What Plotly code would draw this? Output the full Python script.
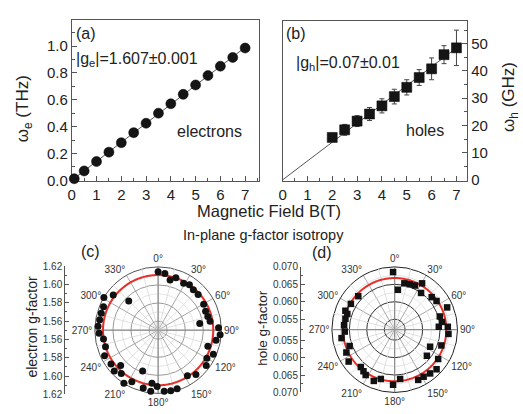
import numpy as np
import plotly.graph_objects as go

W, H = 523, 414
FONT = "Liberation Sans"

# ---- (a) electron precession frequency vs field ----
e_field = [0.1, 0.5, 1.0, 1.5, 2.0, 2.5, 3.0, 3.5, 4.0, 4.5, 5.0, 5.5, 6.0, 6.5, 7.0]
e_omega = [0.012, 0.07, 0.14, 0.21, 0.28, 0.355, 0.425, 0.50, 0.57, 0.64, 0.71, 0.78, 0.85, 0.915, 0.985]
e_fit_field = [0.0, 7.0]
e_fit_omega = [0.0, 0.99]

# ---- (b) hole precession frequency vs field ----
h_field = [2.0, 2.5, 3.0, 3.5, 4.0, 4.5, 5.0, 5.5, 6.0, 6.5, 7.0]
h_omega = [15.6, 18.4, 21.6, 24.2, 27.2, 30.6, 34.0, 37.6, 40.8, 46.0, 48.5]
h_err = [1.5, 2.0, 2.0, 2.4, 2.6, 2.7, 2.8, 2.9, 4.0, 3.3, 6.5]
h_fit_field = [0.0, 7.0]
h_fit_omega = [0.0, 48.5]

# ---- (c) in-plane electron g-factor ----
e_angle = [0, 6.8, 13.4, 18.7, 28.5, 34.6, 41, 48.3, 60.3, 68.3, 74.6, 80.3, 81, 87.7,
           94.3, 100, 107.8, 113.5, 120, 126.3, 139.6, 147.3, 162, 168.2, 174.3, 181,
           186.9, 186.6, 194.4, 207, 212.8, 220.3, 200.8, 227, 226.6, 234.4, 244.4,
           252.5, 260.8, 267, 273.8, 280.2, 286.6, 293.2, 301, 308, 314.8]
e_g = [1.6145, 1.6131, 1.6071, 1.6113, 1.6091, 1.6110, 1.6094, 1.6093, 1.6080, 1.6065,
       1.6070, 1.6083, 1.5966, 1.6169, 1.6188, 1.6150, 1.6078, 1.6166, 1.6123, 1.6160,
       1.6145, 1.6100, 1.6181, 1.6184, 1.6180, 1.6123, 1.6182, 1.6091, 1.6162, 1.6139,
       1.6199, 1.6130, 1.5983, 1.6163, 1.6070, 1.6141, 1.6157, 1.6110, 1.6112, 1.6154,
       1.6166, 1.6157, 1.6156, 1.6157, 1.6200, 1.6130, 1.5958]
e_g_fit = 1.611

# ---- (d) in-plane hole g-factor ----
h_angle = [358.4, 4.6, 11.8, 18.4, 24.7, 30.6, 35.7, 48.7, 55.6, 67, 73.7, 80.7, 86.2,
           86.9, 94.5, 108.7, 115.7, 129, 124, 133.4, 141, 148.4, 154.9, 173.7, 181.7,
           195.7, 202.2, 212.6, 222.2, 216.9, 235.3, 244.7, 250, 261, 267.8, 275.1,
           282.5, 288.4, 291, 300.5, 312.6]
h_g = [0.06852, 0.06348, 0.06557, 0.06572, 0.06592, 0.06743, 0.06496, 0.06612, 0.06654,
       0.06834, 0.06547, 0.06575, 0.06467, 0.06725, 0.06746, 0.06612, 0.06327, 0.06388,
       0.06703, 0.06852, 0.06814, 0.06783, 0.06790, 0.06621, 0.06779, 0.06667, 0.06786,
       0.06744, 0.06645, 0.06690, 0.06805, 0.06732, 0.06575, 0.06742, 0.06632, 0.06655,
       0.06646, 0.06631, 0.06714, 0.06657, 0.06618]
h_g_fit = 0.0668

angle_ticks = list(range(0, 360, 30))
angle_text = [f"{a}°" for a in angle_ticks]

e_range = [1.55, 1.62]
h_range = [0.052, 0.070]

e_scale_vals = [-0.07, -0.05, -0.03, -0.01, 0.01, 0.03, 0.05, 0.07]
e_scale_text = ["1.62", "1.60", "1.58", "1.56", "1.56", "1.58", "1.60", "1.62"]
h_scale_vals = [-0.018, -0.013, -0.008, -0.003, 0.003, 0.008, 0.013, 0.018]
h_scale_text = ["0.070", "0.065", "0.060", "0.055", "0.055", "0.060", "0.065", "0.070"]


def px_x(x0, x1):
    return [x0 / W, x1 / W]


def px_y(top, bottom):
    return [1 - bottom / H, 1 - top / H]


fig = go.Figure()

# (a)
fig.add_trace(go.Scatter(x=e_fit_field, y=e_fit_omega, mode="lines",
                         line=dict(color="#555", width=1), xaxis="x", yaxis="y"))
fig.add_trace(go.Scatter(x=e_field, y=e_omega, mode="markers", cliponaxis=False,
                         marker=dict(symbol="circle", size=10, color="#151515",
                                     line=dict(color="#000", width=0.5)),
                         xaxis="x", yaxis="y"))
# (b)
fig.add_trace(go.Scatter(x=h_fit_field, y=h_fit_omega, mode="lines",
                         line=dict(color="#555", width=1), xaxis="x2", yaxis="y2"))
fig.add_trace(go.Scatter(x=h_field, y=h_omega, mode="markers", cliponaxis=False,
                         error_y=dict(type="data", array=h_err, color="#444",
                                      thickness=1, width=2.5),
                         marker=dict(symbol="square", size=10, color="#151515",
                                     line=dict(color="#000", width=0.5)),
                         xaxis="x2", yaxis="y2"))

# scale bars beside the polar plots
fig.add_trace(go.Scatter(x=[0], y=[0], mode="markers", marker=dict(opacity=0),
                         xaxis="x3", yaxis="y3", hoverinfo="skip"))
fig.add_trace(go.Scatter(x=[0], y=[0], mode="markers", marker=dict(opacity=0),
                         xaxis="x4", yaxis="y4", hoverinfo="skip"))

circ = np.linspace(0, 360, 361)


def polar_decor(sub, rng, minor_r, minor_color, axis_color):
    # light minor rings
    for r in minor_r:
        fig.add_trace(go.Scatterpolar(r=[r] * len(circ), theta=circ, mode="lines",
                                      line=dict(color=minor_color, width=0.8),
                                      subplot=sub, hoverinfo="skip"))
    # light spokes every 15 degrees between the major ones
    for a in range(15, 360, 30):
        fig.add_trace(go.Scatterpolar(r=[rng[0], rng[1]], theta=[a, a], mode="lines",
                                      line=dict(color=minor_color, width=0.8),
                                      subplot=sub, hoverinfo="skip"))
    # darker cross through the centre
    for a in (0, 90):
        fig.add_trace(go.Scatterpolar(r=[rng[1], rng[0], rng[1]], theta=[a, a, a + 180],
                                      mode="lines", line=dict(color=axis_color, width=1),
                                      subplot=sub, hoverinfo="skip"))


polar_decor("polar", e_range, [1.57, 1.59, 1.61], "#d8d8d8", "#888")
polar_decor("polar2", h_range, [0.0575, 0.0625, 0.0675], "#d8d8d8", "#888")

fig.add_trace(go.Scatterpolar(r=[e_g_fit] * len(circ), theta=circ, mode="lines",
                              line=dict(color="#e5302a", width=2), subplot="polar"))
fig.add_trace(go.Scatterpolar(r=e_g, theta=e_angle, mode="markers", cliponaxis=False,
                              marker=dict(symbol="circle", size=7, color="#111"),
                              subplot="polar"))
fig.add_trace(go.Scatterpolar(r=[h_g_fit] * len(circ), theta=circ, mode="lines",
                              line=dict(color="#e5302a", width=2), subplot="polar2"))
fig.add_trace(go.Scatterpolar(r=h_g, theta=h_angle, mode="markers", cliponaxis=False,
                              marker=dict(symbol="square", size=6.5, color="#111"),
                              subplot="polar2"))

tickfont = dict(family=FONT, size=15, color="#222")
axis_common = dict(showline=True, linecolor="#555", linewidth=1, mirror=True,
                   ticks="inside", ticklen=5, tickcolor="#555", showgrid=False,
                   zeroline=False, tickfont=tickfont, layer="below traces")
scale_common = dict(showline=True, linecolor="#555", linewidth=1, ticks="inside",
                    ticklen=4, tickcolor="#555", showgrid=False, zeroline=False,
                    tickfont=dict(family=FONT, size=10, color="#333"))

fig.update_layout(
    width=W, height=H, margin=dict(l=0, r=0, t=0, b=0),
    paper_bgcolor="white", plot_bgcolor="white", showlegend=False,
    font=dict(family=FONT, color="#222"),
    xaxis=dict(domain=px_x(68.3, 256.7), range=[0, 7.55], anchor="y",
               tickvals=list(range(8)),
               minor=dict(dtick=0.5, ticks="inside", ticklen=3, tickcolor="#555"),
               **axis_common),
    yaxis=dict(domain=px_y(15, 181), range=[-0.004, 1.19], anchor="x",
               tickvals=[0, 0.2, 0.4, 0.6, 0.8, 1.0], tickformat=".1f",
               minor=dict(dtick=0.1, ticks="inside", ticklen=3, tickcolor="#555"),
               **axis_common),
    xaxis2=dict(domain=px_x(280.7, 466.7), range=[0, 7.43], anchor="y2",
                tickvals=list(range(8)),
                minor=dict(dtick=0.5, ticks="inside", ticklen=3, tickcolor="#555"),
                **axis_common),
    yaxis2=dict(domain=px_y(15.7, 181), range=[-0.35, 58.3], anchor="x2", side="right",
                tickvals=[0, 10, 20, 30, 40, 50],
                minor=dict(dtick=5, ticks="inside", ticklen=3, tickcolor="#555"),
                **axis_common),
    xaxis3=dict(domain=px_x(61.7, 63), visible=False, anchor="y3", range=[0, 1]),
    yaxis3=dict(domain=px_y(269.3, 401.9), range=[-0.07, 0.07], anchor="x3",
                tickvals=e_scale_vals, ticktext=e_scale_text,
                minor=dict(tickvals=[-0.06, -0.04, -0.02, 0, 0.02, 0.04, 0.06],
                           ticks="inside", ticklen=2, tickcolor="#555"),
                **scale_common),
    xaxis4=dict(domain=px_x(299.3, 300.5), visible=False, anchor="y4", range=[0, 1]),
    yaxis4=dict(domain=px_y(270, 400), range=[-0.018, 0.018], anchor="x4",
                tickvals=h_scale_vals, ticktext=h_scale_text,
                minor=dict(tickvals=[-0.0155, -0.0105, -0.0055, 0, 0.0055, 0.0105, 0.0155],
                           ticks="inside", ticklen=2, tickcolor="#555"),
                **scale_common),
    polar=dict(
        domain=dict(x=px_x(155.3 - 65.5, 155.3 + 65.5), y=px_y(335.5 - 65.5, 335.5 + 65.5)),
        bgcolor="white",
        radialaxis=dict(range=e_range, tickvals=[1.56, 1.58, 1.60], showticklabels=False,
                        ticks="", showline=False, gridcolor="#999", gridwidth=1,
                        layer="below traces"),
        angularaxis=dict(rotation=90, direction="clockwise", tickvals=angle_ticks,
                         ticktext=angle_text, ticks="", showline=True, linecolor="#555",
                         linewidth=1, gridcolor="#aaa", layer="below traces",
                         tickfont=dict(family=FONT, size=10, color="#333")),
    ),
    polar2=dict(
        domain=dict(x=px_x(393.7 - 65, 393.7 + 65), y=px_y(335 - 65, 335 + 65)),
        bgcolor="white",
        radialaxis=dict(range=h_range, tickvals=[0.055, 0.060, 0.065], showticklabels=False,
                        ticks="", showline=False, gridcolor="#333", gridwidth=1,
                        layer="below traces"),
        angularaxis=dict(rotation=90, direction="clockwise", tickvals=angle_ticks,
                         ticktext=angle_text, ticks="", showline=True, linecolor="#222",
                         linewidth=1, gridcolor="#aaa", layer="below traces",
                         tickfont=dict(family=FONT, size=10, color="#333")),
    ),
)


def note(text, x, y, size=16, xanchor="left", angle=0):
    fig.add_annotation(text=text, x=x / W, y=1 - y / H, xref="paper", yref="paper",
                       showarrow=False, xanchor=xanchor, yanchor="middle",
                       textangle=angle, font=dict(family=FONT, size=size, color="#222"))


note("(a)", 71, 28)
note("|g<sub>e</sub>|=1.607±0.001", 71, 55)
note("electrons", 172, 130)
note("(b)", 282, 28)
note("|g<sub>h</sub>|=0.07±0.01", 292, 60)
note("holes", 403, 129)
note("ω<sub>e</sub> (THz)", 21, 106, size=17, xanchor="center", angle=-90)
note("ω<sub>h</sub> (GHz)", 510, 94, size=17, xanchor="center", angle=-90)
note("Magnetic Field B(T)", 267, 212, size=16.5, xanchor="center")
note("In-plane g-factor isotropy", 262, 237, size=14.5, xanchor="center")
note("(c)", 87, 254, size=16, xanchor="center")
note("(d)", 320, 255, size=16, xanchor="center")
note("electron g-factor", 28, 332, size=14, xanchor="center", angle=-90)
note("hole g-factor", 261, 333, size=13.5, xanchor="center", angle=-90)

fig.write_html("out.html")
